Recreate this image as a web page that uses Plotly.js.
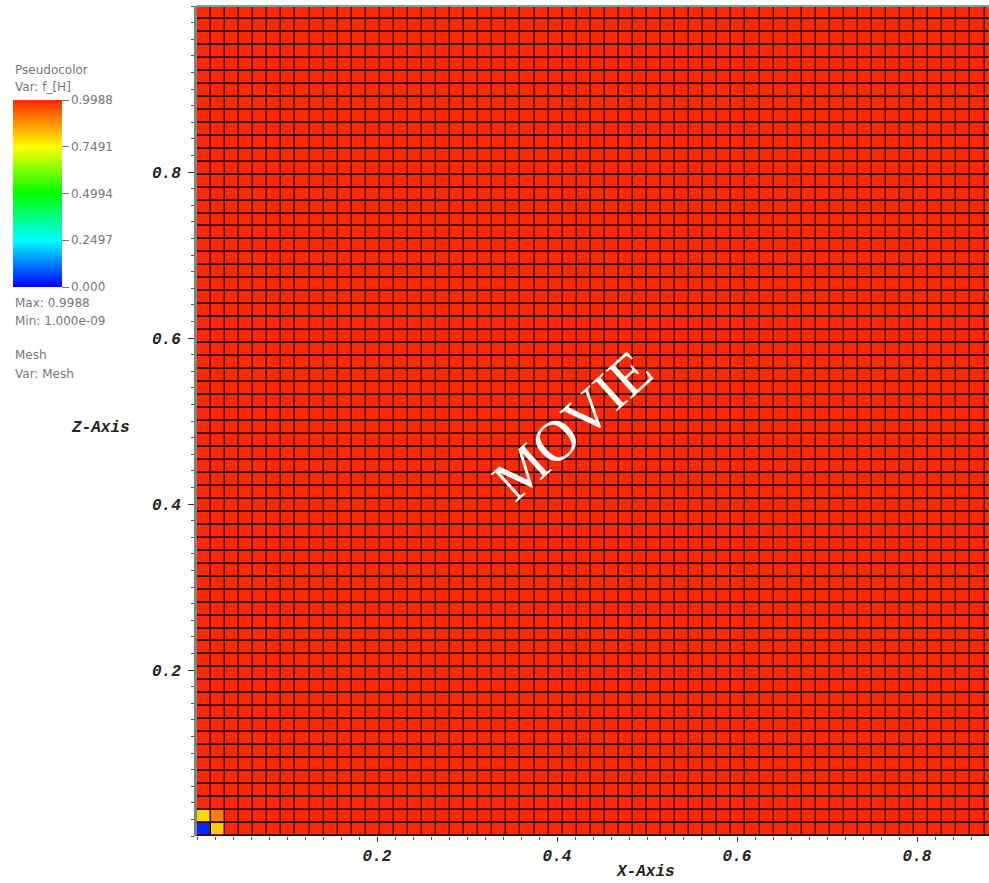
<!DOCTYPE html>
<html>
<head>
<meta charset="utf-8">
<script src="https://cdn.plot.ly/plotly-3.0.1.min.js"></script>
<style>
html,body{margin:0;padding:0;background:#fff;}
#chart{width:989px;height:883px;}
</style>
</head>
<body>
<div id="chart"></div>
<script>
// ---- data ----
const meshCols = 64;              // cells along X
const meshRows = 64;              // cells along Z
const meshX0 = 0;                 // mesh origin X
const meshZ0 = 0;                 // mesh origin Z
const meshSpacing = 1 / 64;       // cell size
const fieldMax = 0.9988;          // value of (almost) every cell
const fieldMin = 1.000e-09;
// cells that differ from the max value: [col, row, value]
const cornerCells = [
  [0, 0, 0.04],
  [1, 0, 0.81],
  [0, 1, 0.80],
  [1, 1, 0.90]
];
const legendTicks = [0.000, 0.2497, 0.4994, 0.7491, 0.9988];
const legendTickText = ["0.000", "0.2497", "0.4994", "0.7491", "0.9988"];
const xTicks = [0.2, 0.4, 0.6, 0.8];
const yTicks = [0.2, 0.4, 0.6, 0.8];

// build the cell table
const z = [];
for (let r = 0; r < meshRows; r++) {
  const row = [];
  for (let c = 0; c < meshCols; c++) row.push(fieldMax);
  z.push(row);
}
cornerCells.forEach(([c, r, v]) => { z[r][c] = v; });

// ---- layout helpers (pixel -> paper) ----
const W = 989, H = 883, L = 197, R = 0, T = 6, B = 47;
const pw = W - L - R, ph = H - T - B;
const px = x => (x - L) / pw;
const py = y => 1 - (y - T) / ph;

const legendFont = {family: "DejaVu Sans", size: 12, color: "#777"};
const axisFont = {family: "Liberation Mono", size: 16, color: "#222", weight: "bold", style: "italic"};

const trace = {
  type: "heatmap",
  z: z,
  x0: meshX0 + meshSpacing / 2,
  dx: meshSpacing,
  y0: meshZ0 + meshSpacing / 2,
  dy: meshSpacing,
  zmin: 0,
  zmax: fieldMax,
  xgap: 1.5,
  ygap: 1.8,
  hoverinfo: "skip",
  colorscale: [
    [0, "#0000ff"],
    [0.25, "#00ffff"],
    [0.5, "#00ff00"],
    [0.75, "#ffff00"],
    [1, "#ff2800"]
  ],
  colorbar: {
    x: px(13), xanchor: "left",
    y: py(193.5), yanchor: "middle",
    thickness: 49, thicknessmode: "pixels",
    len: 187, lenmode: "pixels",
    xpad: 0, ypad: 0,
    outlinewidth: 0,
    tickmode: "array",
    tickvals: legendTicks,
    ticktext: legendTickText,
    ticks: "outside", ticklen: 7, tickcolor: "#777", tickwidth: 1,
    tickfont: legendFont
  }
};

const annotations = [
  {text: "Pseudocolor", x: px(13), y: py(70)},
  {text: "Var: f_[H]", x: px(13), y: py(87)},
  {text: "Max: 0.9988", x: px(13), y: py(303)},
  {text: "Min: 1.000e-09", x: px(13), y: py(321)},
  {text: "Mesh", x: px(13), y: py(355)},
  {text: "Var: Mesh", x: px(13), y: py(374)}
].map(a => Object.assign({xref: "paper", yref: "paper", xanchor: "left", yanchor: "middle",
  showarrow: false, font: legendFont}, a));

annotations.push({text: "X-Axis", xref: "paper", yref: "paper", x: px(645), y: py(872),
  xanchor: "center", yanchor: "middle", showarrow: false, font: axisFont});
annotations.push({text: "Z-Axis", xref: "paper", yref: "paper", x: px(100), y: py(428),
  xanchor: "center", yanchor: "middle", showarrow: false, font: axisFont});
annotations.push({text: "MOVIE", xref: "paper", yref: "paper", x: px(572), y: py(425),
  xanchor: "center", yanchor: "middle", showarrow: false, textangle: -42,
  font: {family: "Liberation Serif", size: 58, color: "#ffffff"}});

const layout = {
  width: W, height: H,
  margin: {l: L, r: R, t: T, b: B, pad: 0},
  paper_bgcolor: "#ffffff",
  plot_bgcolor: "#3a0c06",
  showlegend: false,
  xaxis: {
    range: [0, pw / 900], showgrid: false, zeroline: false,
    tickmode: "array", tickvals: xTicks, ticktext: xTicks.map(v => v.toFixed(1)),
    ticks: "outside", ticklen: 5, tickcolor: "#333",
    minor: {dtick: 0.02, ticks: "outside", ticklen: 3, tickcolor: "#555", showgrid: false},
    tickfont: axisFont, showline: false, fixedrange: true
  },
  yaxis: {
    range: [0, 1], showgrid: false, zeroline: false,
    tickmode: "array", tickvals: yTicks, ticktext: yTicks.map(v => v.toFixed(1)),
    ticks: "outside", ticklen: 6, tickcolor: "#333",
    minor: {dtick: 0.02, ticks: "outside", ticklen: 3, tickcolor: "#555", showgrid: false},
    tickfont: axisFont, ticklabelstandoff: 4,
    showline: true, linecolor: "#708a88", linewidth: 3, fixedrange: true
  },
  shapes: [
    {type: "line", xref: "paper", yref: "paper", x0: 0, x1: 1, y0: 1, y1: 1,
     line: {color: "#8a9a98", width: 2}}
  ],
  annotations: annotations
};

Plotly.newPlot("chart", [trace], layout, {staticPlot: true, displayModeBar: false});
</script>
</body>
</html>
